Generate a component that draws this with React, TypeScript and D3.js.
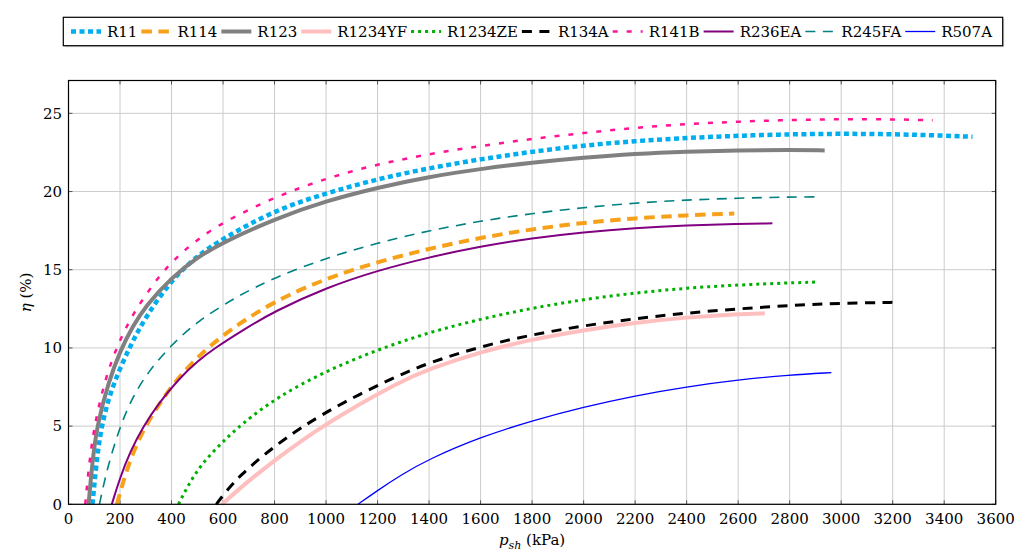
import React, { useEffect, useRef } from 'react';
import * as d3 from 'd3';

type Pt = [number, number];

// p_sh (kPa), eta (%)
const r11: Pt[] = [[93, 0], [108, 2.6], [127, 5], [168, 7.5], [238, 10.1], [300, 12.0], [400, 14.35], [500, 15.9], [600, 17.0], [800, 18.8], [1000, 19.9], [1200, 20.8], [1400, 21.5], [1600, 22.07], [1800, 22.55], [2000, 22.95], [2200, 23.23], [2400, 23.43], [2600, 23.57], [2800, 23.66], [3000, 23.7], [3200, 23.67], [3400, 23.58], [3510, 23.5]];
const r114: Pt[] = [[188, 0], [220, 1.9], [260, 3.7], [304, 5.15], [360, 6.6], [414, 7.85], [480, 9.05], [537, 9.95], [634, 11.25], [800, 13.0], [1000, 14.45], [1200, 15.5], [1400, 16.35], [1600, 17.05], [1800, 17.6], [2000, 18.0], [2200, 18.3], [2400, 18.48], [2585, 18.6]];
const r123: Pt[] = [[78, 0], [92, 2.6], [110, 5], [155, 7.8], [200, 9.8], [250, 11.4], [300, 12.7], [400, 14.5], [500, 15.8], [600, 16.75], [800, 18.25], [1000, 19.4], [1200, 20.25], [1400, 20.95], [1600, 21.45], [1800, 21.85], [2000, 22.17], [2200, 22.42], [2400, 22.56], [2600, 22.64], [2800, 22.67], [2936, 22.63]];
const r1234yf: Pt[] = [[596, 0], [667, 1.05], [745, 2.1], [848, 3.4], [952, 4.6], [1055, 5.7], [1288, 7.85], [1400, 8.65], [1600, 9.75], [1800, 10.55], [2000, 11.14], [2200, 11.61], [2400, 11.96], [2600, 12.17], [2704, 12.21]];
const r1234ze: Pt[] = [[427, 0], [470, 1.4], [525, 2.75], [602, 4.05], [670, 5.1], [809, 6.85], [1003, 8.55], [1197, 9.87], [1400, 11.0], [1600, 11.85], [1800, 12.55], [2000, 13.1], [2200, 13.52], [2400, 13.83], [2600, 14.03], [2800, 14.16], [2904, 14.21]];
const r134a: Pt[] = [[574, 0], [610, 0.8], [667, 1.85], [771, 3.35], [900, 4.9], [1068, 6.55], [1288, 8.3], [1400, 9.05], [1600, 10.1], [1800, 10.85], [2000, 11.42], [2200, 11.88], [2400, 12.23], [2600, 12.5], [2800, 12.72], [3000, 12.86], [3227, 12.92]];
const r141b: Pt[] = [[65, 0], [80, 2.6], [100, 5.0], [140, 7.9], [190, 10.2], [250, 12.2], [350, 14.6], [428, 15.94], [512, 17.07], [602, 18.05], [800, 19.65], [1000, 20.85], [1200, 21.75], [1400, 22.4], [1600, 22.92], [1800, 23.37], [2000, 23.75], [2200, 24.08], [2400, 24.32], [2600, 24.47], [2800, 24.58], [3000, 24.63], [3200, 24.62], [3355, 24.56]];
const r236ea: Pt[] = [[168, 0], [200, 1.7], [240, 3.4], [291, 5], [350, 6.45], [427, 8.0], [500, 9.15], [569, 10.0], [673, 11.1], [800, 12.35], [1000, 13.85], [1200, 14.95], [1400, 15.8], [1600, 16.5], [1800, 17.02], [2000, 17.4], [2200, 17.67], [2400, 17.84], [2600, 17.93], [2733, 17.97]];
const r245fa: Pt[] = [[120, 0], [150, 2.3], [200, 5.0], [250, 6.9], [310, 8.5], [400, 10.2], [500, 11.7], [654, 13.3], [800, 14.5], [1000, 15.75], [1200, 16.72], [1400, 17.5], [1600, 18.12], [1800, 18.6], [2000, 18.98], [2200, 19.27], [2400, 19.46], [2600, 19.58], [2800, 19.65], [2920, 19.66]];
const r507a: Pt[] = [[1124, 0], [1197, 0.85], [1288, 1.85], [1400, 2.9], [1600, 4.3], [1800, 5.35], [2000, 6.22], [2200, 6.95], [2400, 7.52], [2600, 7.96], [2800, 8.27], [2962, 8.42]];

const seriesNames = ['R11', 'R114', 'R123', 'R1234YF', 'R1234ZE', 'R134A', 'R141B', 'R236EA', 'R245FA', 'R507A'];
const seriesValues = [r11, r114, r123, r1234yf, r1234ze, r134a, r141b, r236ea, r245fa, r507a];

const xTicks = [0, 200, 400, 600, 800, 1000, 1200, 1400, 1600, 1800, 2000, 2200, 2400, 2600, 2800, 3000, 3200, 3400, 3600];
const yTicks = [0, 5, 10, 15, 20, 25];

const lineStyles: { [name: string]: { color: string; width: number; dash: string | null } } = {
  R11: { color: '#00aeef', width: 4.5, dash: '5 3.5' },
  R114: { color: '#f7a11a', width: 4, dash: '10.5 6.5' },
  R123: { color: '#808080', width: 4, dash: null },
  R1234YF: { color: '#ffbfbf', width: 4, dash: null },
  R1234ZE: { color: '#00b000', width: 3, dash: '3 4' },
  R134A: { color: '#000000', width: 3, dash: '10 7.5' },
  R141B: { color: '#ff1493', width: 2.5, dash: '5 9' },
  R236EA: { color: '#800080', width: 2, dash: null },
  R245FA: { color: '#008080', width: 1.6, dash: '10 7.5' },
  R507A: { color: '#0000ff', width: 1.3, dash: null },
};

const FONT = "'DejaVu Serif', 'Liberation Serif', serif";

export default function App() {
  const ref = useRef<SVGSVGElement>(null);

  useEffect(() => {
    const width = 1025;
    const height = 552;
    const plot = { left: 68.5, right: 995.7, top: 80.5, bottom: 504.3 };

    const svg = d3.select(ref.current);
    svg.selectAll('*').remove();

    const xScale = d3.scaleLinear().domain([0, 3600]).range([plot.left, plot.right]);
    const yScale = d3.scaleLinear().domain([0, 27.1]).range([plot.bottom, plot.top]);

    svg.append('rect').attr('width', width).attr('height', height).attr('fill', '#fff');

    // grid
    const grid = svg.append('g').attr('stroke', '#cccccc').attr('stroke-width', 1);
    grid
      .selectAll('line.vx')
      .data(xTicks)
      .enter()
      .append('line')
      .attr('x1', (d) => xScale(d))
      .attr('x2', (d) => xScale(d))
      .attr('y1', plot.top)
      .attr('y2', plot.bottom);
    grid
      .selectAll('line.hy')
      .data(yTicks)
      .enter()
      .append('line')
      .attr('x1', plot.left)
      .attr('x2', plot.right)
      .attr('y1', (d) => yScale(d))
      .attr('y2', (d) => yScale(d));

    // inward ticks on all sides
    const ticks = svg.append('g').attr('stroke', '#555').attr('stroke-width', 1);
    const tl = 4;
    xTicks.forEach((t) => {
      ticks.append('line').attr('x1', xScale(t)).attr('x2', xScale(t)).attr('y1', plot.bottom).attr('y2', plot.bottom - tl);
      ticks.append('line').attr('x1', xScale(t)).attr('x2', xScale(t)).attr('y1', plot.top).attr('y2', plot.top + tl);
    });
    yTicks.forEach((t) => {
      ticks.append('line').attr('x1', plot.left).attr('x2', plot.left + tl).attr('y1', yScale(t)).attr('y2', yScale(t));
      ticks.append('line').attr('x1', plot.right).attr('x2', plot.right - tl).attr('y1', yScale(t)).attr('y2', yScale(t));
    });

    // curves
    const line = d3
      .line<Pt>()
      .x((d) => xScale(d[0]))
      .y((d) => yScale(d[1]))
      .curve(d3.curveBasis);

    seriesNames.forEach((name, i) => {
      const s = lineStyles[name];
      svg
        .append('path')
        .datum(seriesValues[i])
        .attr('d', line)
        .attr('fill', 'none')
        .attr('stroke', s.color)
        .attr('stroke-width', s.width)
        .attr('stroke-dasharray', s.dash)
        .attr('stroke-linejoin', 'round');
    });

    // frame
    svg
      .append('rect')
      .attr('x', plot.left)
      .attr('y', plot.top)
      .attr('width', plot.right - plot.left)
      .attr('height', plot.bottom - plot.top)
      .attr('fill', 'none')
      .attr('stroke', '#000')
      .attr('stroke-width', 1.2);

    // tick labels
    svg
      .append('g')
      .selectAll('text')
      .data(xTicks)
      .enter()
      .append('text')
      .attr('x', (d) => xScale(d))
      .attr('y', 523.5)
      .attr('text-anchor', 'middle')
      .style('font-family', FONT)
      .style('font-size', '15px')
      .text((d) => d);

    svg
      .append('g')
      .selectAll('text')
      .data(yTicks)
      .enter()
      .append('text')
      .attr('x', 62)
      .attr('y', (d) => yScale(d))
      .attr('dy', '0.35em')
      .attr('text-anchor', 'end')
      .style('font-family', FONT)
      .style('font-size', '15px')
      .text((d) => d);

    // axis titles
    const xt = svg
      .append('text')
      .attr('x', (plot.left + plot.right) / 2)
      .attr('y', 545)
      .attr('text-anchor', 'middle')
      .style('font-family', FONT)
      .style('font-size', '15px');
    xt.append('tspan').attr('font-style', 'italic').text('p');
    xt.append('tspan').attr('font-style', 'italic').style('font-size', '11px').attr('dy', 4).text('sh');
    xt.append('tspan').attr('dy', -4).text(' (kPa)');

    const yt = svg
      .append('text')
      .attr('transform', `translate(31, ${(plot.top + plot.bottom) / 2}) rotate(-90)`)
      .attr('text-anchor', 'middle')
      .style('font-family', FONT)
      .style('font-size', '15px');
    yt.append('tspan').attr('font-style', 'italic').text('η');
    yt.append('tspan').text(' (%)');

    // legend
    const box = { x: 63.3, y: 17.3, w: 939.4, h: 28.4 };
    svg
      .append('rect')
      .attr('x', box.x + 1.5)
      .attr('y', box.y + 1.5)
      .attr('width', box.w)
      .attr('height', box.h)
      .attr('fill', '#d4d4d4');
    svg
      .append('rect')
      .attr('x', box.x)
      .attr('y', box.y)
      .attr('width', box.w)
      .attr('height', box.h)
      .attr('fill', '#fff')
      .attr('stroke', '#000')
      .attr('stroke-width', 1.2);

    const legend = svg.append('g');
    const symLen = 30;
    const symGap = 6;
    const cy = box.y + box.h / 2;
    const items = seriesNames.map((name) => {
      const g = legend.append('g');
      const s = lineStyles[name];
      g.append('line')
        .attr('x1', 0)
        .attr('x2', symLen)
        .attr('y1', cy)
        .attr('y2', cy)
        .attr('stroke', s.color)
        .attr('stroke-width', s.width)
        .attr('stroke-dasharray', s.dash);
      const t = g
        .append('text')
        .attr('x', symLen + symGap)
        .attr('y', cy)
        .attr('dy', '0.35em')
        .style('font-family', FONT)
        .style('font-size', '15px')
        .text(name);
      const tw = (t.node() as SVGTextElement).getComputedTextLength();
      return { g, w: symLen + symGap + tw };
    });
    const startX = 71;
    const endX = 992;
    const total = d3.sum(items, (d) => d.w);
    const spacing = (endX - startX - total) / (items.length - 1);
    let cx = startX;
    items.forEach((it) => {
      it.g.attr('transform', `translate(${cx}, 0)`);
      cx += it.w + spacing;
    });
  }, []);

  return (
    <svg
      ref={ref}
      width={1025}
      height={552}
      style={{ position: 'absolute', left: 0, top: 0, display: 'block' }}
    />
  );
}
